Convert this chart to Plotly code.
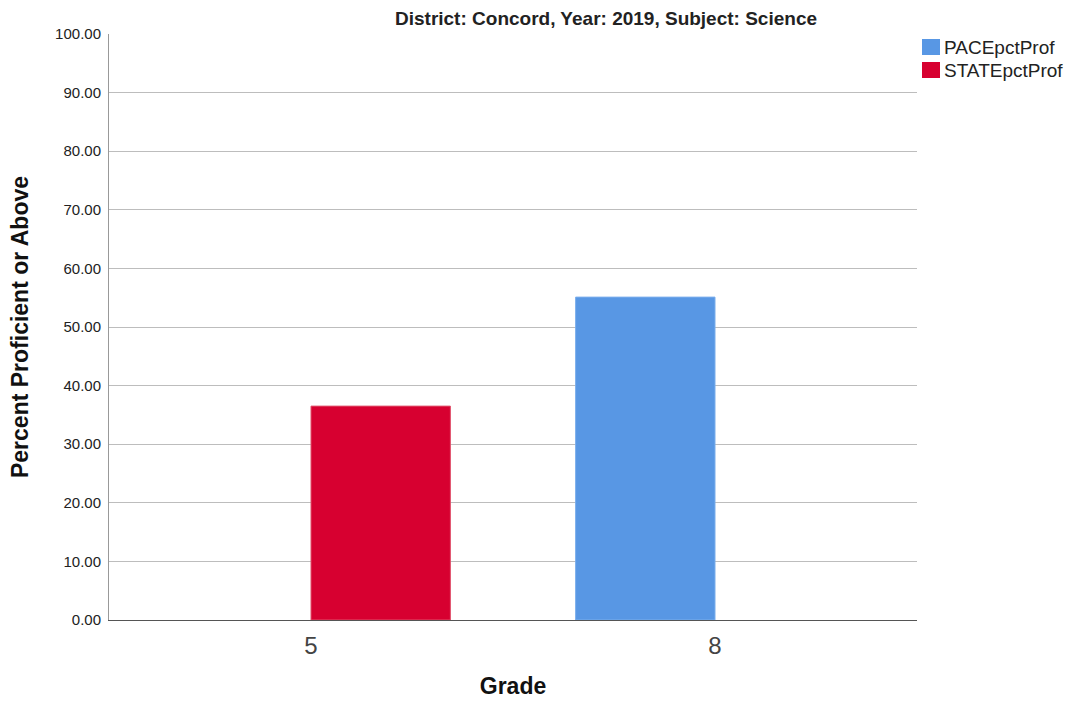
import plotly.graph_objects as go

grades = ["5", "8"]
pace_pct_prof = [None, 55.1]
state_pct_prof = [36.5, None]
y_ticks = [0, 10, 20, 30, 40, 50, 60, 70, 80, 90, 100]

series_names = ["PACEpctProf", "STATEpctProf"]
series_colors = ["#5897E4", "#D70030"]
edge_colors = ["#7AAEEC", "#E0506A"]

W, H = 1068, 707
ML, MR, MT, MB = 109, 151, 34, 87
PW, PH = W - ML - MR, H - MT - MB

fig = go.Figure()
for name, vals, col, edge in zip(series_names, [pace_pct_prof, state_pct_prof],
                                 series_colors, edge_colors):
    fig.add_trace(go.Bar(
        x=grades, y=vals, name=name,
        marker=dict(color=col, line=dict(color=edge, width=1)),
        showlegend=False,
    ))

# Legend drawn as swatches + labels to the right of the plot area
def px_x(px):
    return (px - ML) / PW

def px_y(py):
    return 1 - (py - MT) / PH

shapes, annotations = [], []
legend_rows = [47, 70]
for name, col, cy in zip(series_names, series_colors, legend_rows):
    shapes.append(dict(
        type="rect", xref="paper", yref="paper",
        x0=px_x(922), x1=px_x(940), y0=px_y(cy + 8), y1=px_y(cy - 8),
        fillcolor=col, line=dict(width=0),
    ))
    annotations.append(dict(
        text=name, xref="paper", yref="paper",
        x=px_x(942), y=px_y(cy), xanchor="left", yanchor="middle",
        showarrow=False, font=dict(size=19, color="#222222"),
    ))

fig.update_layout(
    width=W, height=H,
    margin=dict(l=ML, r=MR, t=MT, b=MB, autoexpand=False),
    paper_bgcolor="white", plot_bgcolor="white",
    barmode="group", bargap=0.31, bargroupgap=0,
    font=dict(family="Liberation Sans, Arial, sans-serif", color="#222222"),
    title=dict(
        text="<b>District: Concord, Year: 2019, Subject: Science</b>",
        x=606 / W, xref="container", xanchor="center",
        y=1 - 18 / H, yanchor="middle",
        font=dict(size=19, color="#222222"),
    ),
    shapes=shapes,
    annotations=annotations,
    showlegend=False,
)

fig.update_xaxes(
    type="category", range=[-0.5, 1.5], automargin=False,
    showline=True, linecolor="#555555", linewidth=1,
    showgrid=False, ticks="",
    tickfont=dict(size=24, color="#444444"),
    ticklabelstandoff=4,
    title=dict(text="<b>Grade</b>", font=dict(size=23, color="#111111"), standoff=20),
)
fig.update_yaxes(
    range=[0, 100], tickvals=y_ticks, tickformat=".2f", automargin=False,
    showline=True, linecolor="#999999", linewidth=1,
    showgrid=True, gridcolor="#BDBDBD", gridwidth=1,
    zeroline=False, ticks="",
    tickfont=dict(size=15, color="#222222"),
    ticklabelstandoff=4,
    title=dict(text="<b>Percent Proficient or Above</b>", font=dict(size=23, color="#111111"), standoff=20),
)

fig.write_html("out.html")
